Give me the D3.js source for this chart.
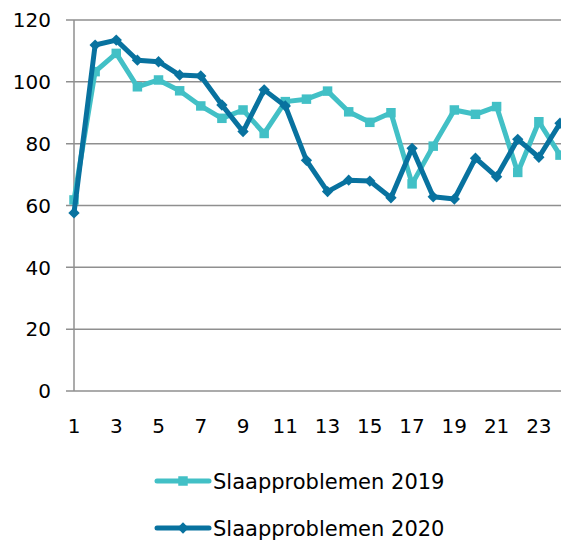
<!DOCTYPE html>
<html>
<head>
<meta charset="utf-8">
<script src="https://cdn.jsdelivr.net/npm/d3@7"></script>
<style>
  body { margin: 0; background: #fff; }
  text { font-family: "DejaVu Sans", sans-serif; fill: #000; }
</style>
</head>
<body>
<div id="chart"></div>
<script>
// weeks 1..24
let weeks = d3.range(1, 25)
let yTicks = [0, 20, 40, 60, 80, 100, 120]
let xTicks = [1, 3, 5, 7, 9, 11, 13, 15, 17, 19, 21, 23]

let series2019 = [61.8, 103.3, 109.2, 98.4, 100.6, 97.1, 92.2, 88.2, 90.9, 83.3, 93.6, 94.4,
                  97.0, 90.3, 86.9, 90.0, 67.0, 79.2, 90.9, 89.5, 92.0, 70.7, 87.1, 76.3]
let series2020 = [57.6, 111.9, 113.5, 107.0, 106.5, 102.2, 101.9, 92.5, 83.9, 97.4, 92.2, 74.6,
                  64.5, 68.2, 67.9, 62.5, 78.5, 62.8, 62.1, 75.3, 69.3, 81.4, 75.6, 86.6]

let names = ["Slaapproblemen 2019", "Slaapproblemen 2020"]
let colors = ["#42c0c6", "#08729f"]

let width = 561, height = 544

const svg = d3.select("#chart").append("svg").attr("width", width).attr("height", height)

let x = d3.scaleLinear().domain([1, 24]).range([74, 560])
let y = d3.scaleLinear().domain([0, 120]).range([391, 20])

// marker: square for 2019, diamond (rotated square) for 2020
const marker = (k) => k ? d3.symbol(d3.symbolSquare, 64)() : d3.symbol(d3.symbolSquare, 90)()
const rot = (k) => k ? " rotate(45)" : ""

// gridlines + tick stubs
svg.append("g").selectAll("line").data(yTicks).join("line")
  .attr("x1", 66).attr("x2", width)
  .attr("y1", d => y(d)).attr("y2", d => y(d))
  .attr("stroke", "#8f8f8f").attr("stroke-width", 1.5)

// y axis line
svg.append("line").attr("x1", x(1)).attr("x2", x(1)).attr("y1", y(120)).attr("y2", y(0))
  .attr("stroke", "#8f8f8f").attr("stroke-width", 1.5)

svg.append("g").selectAll("text").data(yTicks).join("text")
  .attr("x", 51).attr("y", d => y(d)).attr("dy", "0.36em")
  .attr("text-anchor", "end").style("font-size", "20px").text(d => d)

svg.append("g").selectAll("text").data(xTicks).join("text")
  .attr("x", d => x(d)).attr("y", 433)
  .attr("text-anchor", "middle").style("font-size", "20px").text(d => d)

let line = d3.line().x((d, i) => x(weeks[i])).y(d => y(d))

let all = [series2019, series2020]
all.forEach((s, k) => {
  svg.append("path").datum(s).attr("d", line)
    .attr("fill", "none").attr("stroke", colors[k]).attr("stroke-width", 5)
    .attr("stroke-linejoin", "round")
  svg.append("g").selectAll("path").data(s).join("path")
    .attr("d", marker(k))
    .attr("transform", (d, i) => `translate(${x(weeks[i])},${y(d)})` + rot(k))
    .attr("fill", colors[k])
})

// legend
names.forEach((n, k) => {
  let ly = 481 + k * 47
  let g = svg.append("g")
  g.append("line").attr("x1", 157).attr("x2", 209).attr("y1", ly).attr("y2", ly)
    .attr("stroke", colors[k]).attr("stroke-width", 5).attr("stroke-linecap", "round")
  g.append("path")
    .attr("d", marker(k))
    .attr("transform", `translate(183,${ly})` + rot(k)).attr("fill", colors[k])
  g.append("text").attr("x", 213).attr("y", ly).attr("dy", "0.36em")
    .style("font-size", "21px").text(n)
})
</script>
</body>
</html>
